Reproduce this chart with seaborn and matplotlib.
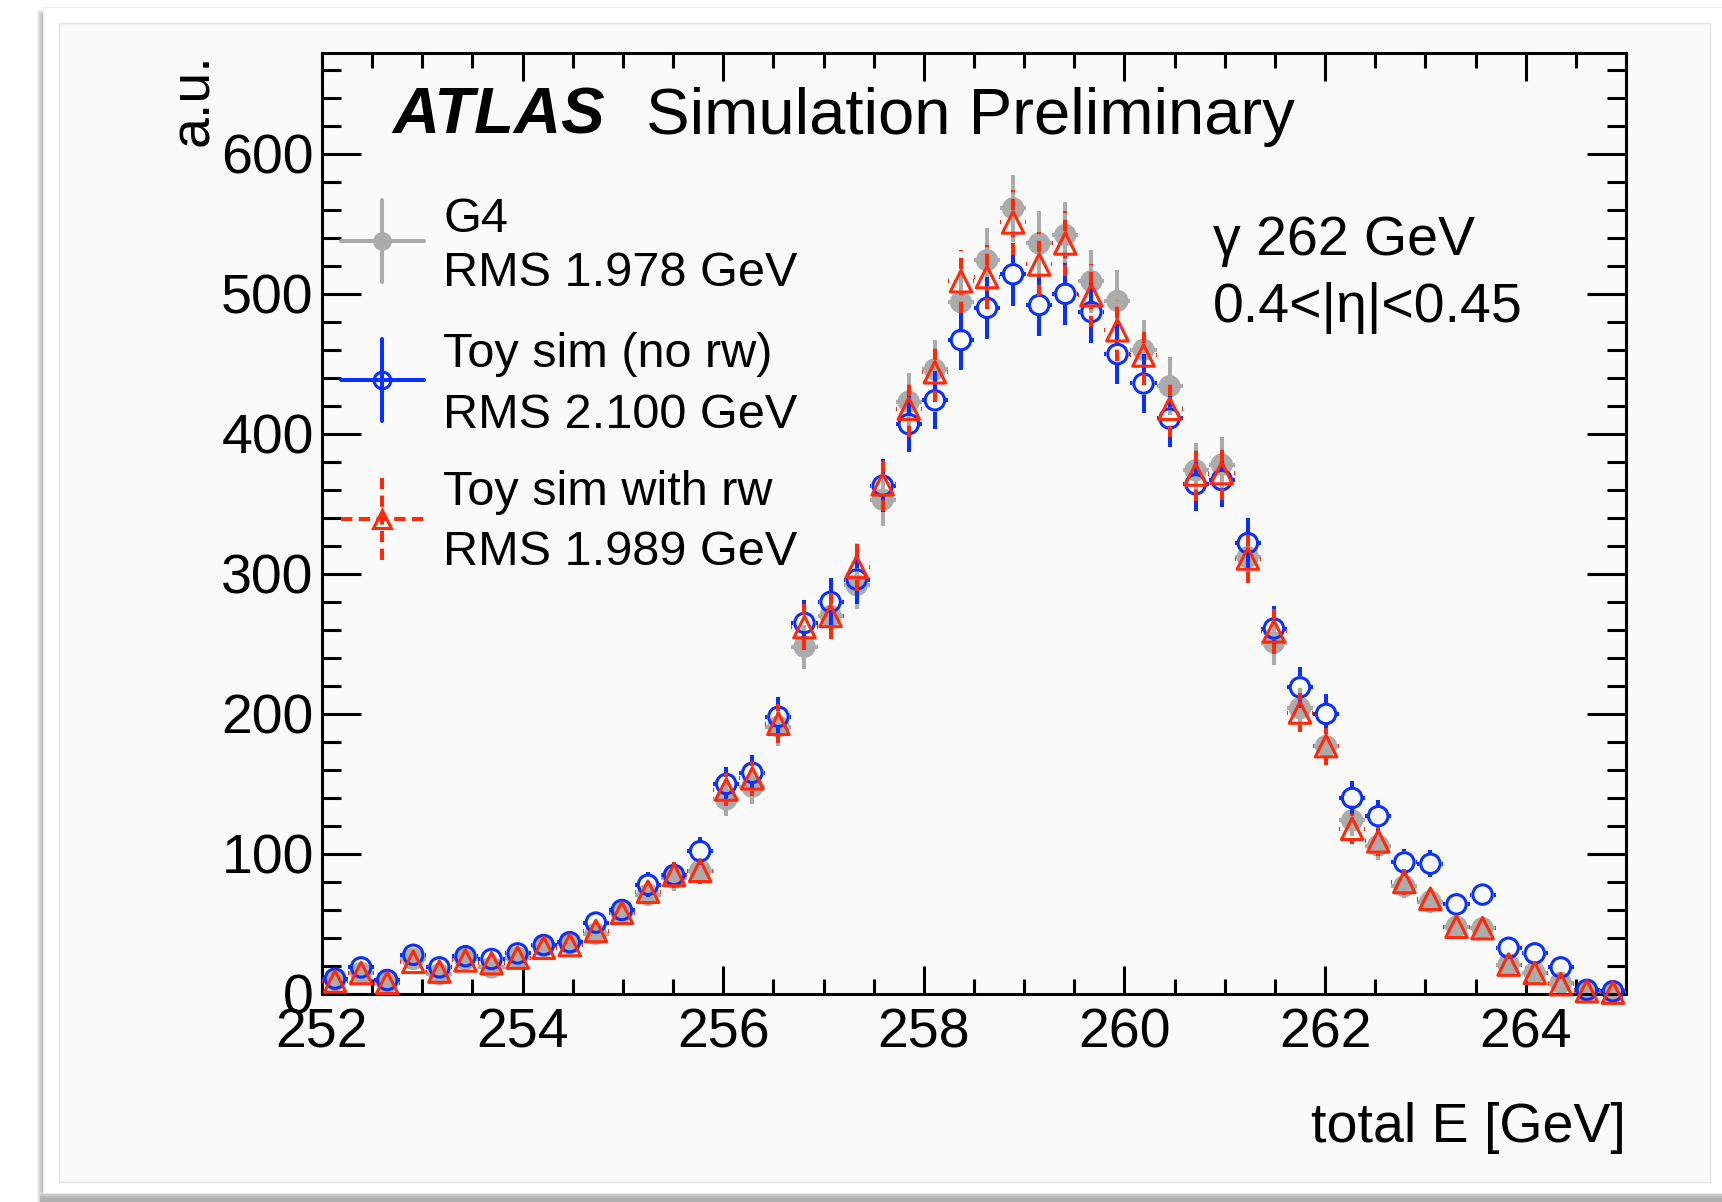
import numpy as np
import pandas as pd
import matplotlib
matplotlib.use("Agg")
import matplotlib.pyplot as plt
from matplotlib.patches import Rectangle
from matplotlib.ticker import MultipleLocator
import seaborn as sns

# Histogram binning of the total reconstructed energy
E_MIN, E_MAX, N_BINS = 252.0, 265.0, 50

# Bin contents (a.u.)
g4_counts = [10, 15, 8, 25, 14, 25, 19, 26, 34, 36,
             43, 58, 71, 83, 88, 139, 148, 191, 248, 270,
             292, 353, 423, 446, 494, 524, 561, 536, 542, 509,
             495, 460, 434, 374, 378, 312, 251, 204, 177, 124,
             106, 77, 66, 48, 47, 21, 15, 8, 2, 1]
toy_norw_counts = [11, 19, 10, 28, 19, 27, 25, 29, 35, 37,
                   51, 60, 78, 85, 102, 150, 158, 198, 265, 280,
                   296, 363, 407, 424, 467, 490, 514, 492, 500, 487,
                   457, 436, 411, 364, 367, 322, 261, 219, 200, 140,
                   127, 94, 93, 64, 71, 33, 29, 19, 3, 2]
toy_rw_counts = [9, 15, 8, 23, 16, 24, 22, 26, 33, 35,
                 45, 58, 73, 85, 88, 146, 154, 193, 262, 270,
                 305, 364, 418, 444, 509, 512, 551, 521, 536, 499,
                 474, 456, 418, 371, 372, 311, 259, 201, 177, 118,
                 109, 80, 68, 48, 47, 21, 15, 7, 2, 1]

sample_names = ["G4", "Toy sim (no rw)", "Toy sim with rw"]
rms_labels = ["RMS 1.978 GeV", "RMS 2.100 GeV", "RMS 1.989 GeV"]
x_ticks = [252, 254, 256, 258, 260, 262, 264]
y_ticks = [0, 100, 200, 300, 400, 500, 600]
Y_MAX = 672

GRAY = "#ababab"
BLUE = "#0a30ff"
RED = "#ff2a0a"

edges = np.linspace(E_MIN, E_MAX, N_BINS + 1)
centers = 0.5 * (edges[:-1] + edges[1:])
half_width = 0.5 * (edges[1] - edges[0])

frames = []
for name, counts in zip(sample_names, [g4_counts, toy_norw_counts, toy_rw_counts]):
    c = np.asarray(counts, dtype=float)
    frames.append(pd.DataFrame({"energy": centers, "count": c,
                                "err": np.sqrt(c), "sample": name}))
hist = pd.concat(frames, ignore_index=True)

sns.set_theme(style="ticks")
plt.rcParams["font.family"] = ["Liberation Sans", "DejaVu Sans"]

W, H = 1722, 1202
fig = plt.figure(figsize=(W / 100, H / 100), dpi=100)
fig.patch.set_facecolor("white")


def fx(px):
    return px / W


def fy(py):
    return 1 - py / H


def fig_rect(x0, y0, x1, y1, **kw):
    fig.add_artist(Rectangle((fx(x0), fy(y1)), fx(x1) - fx(x0), fy(y0) - fy(y1),
                             transform=fig.transFigure, **kw))


# slide card with a soft drop shadow and a light panel
for i, shade in enumerate(["#f2f2f2", "#e6e6e6", "#dadada", "#cfcfcf", "#c6c6c6", "#c0c0c0"]):
    fig_rect(37 + i, 10 + i, 44, 1202, facecolor=shade, edgecolor="none", zorder=-6 + i * 0.01)
for i, shade in enumerate(["#d8d8d8", "#c8c8c8", "#bababa", "#b0b0b0"]):
    fig_rect(40, 1192 + i * 2, 1722, 1202, facecolor=shade, edgecolor="none", zorder=-5 + i * 0.01)
fig_rect(43, 7, 1727, 1193, facecolor="white", edgecolor="#ececec", linewidth=0.8, zorder=-4)
fig_rect(59, 23, 1710, 1182, facecolor="#fafafa", edgecolor="#e2e2e2", linewidth=1.0, zorder=-3)

ax = fig.add_axes([fx(322), fy(994), fx(1626 - 322), fy(53) - fy(994)])
ax.set_facecolor("none")
ax.set_xlim(E_MIN, E_MAX)
ax.set_ylim(0, Y_MAX)

bb = ax.get_window_extent()
x_per_px = (E_MAX - E_MIN) / bb.width
y_per_px = Y_MAX / bb.height

styles = {
    "G4": dict(color=GRAY, marker="o", filled=True, ls="-", ms=16.0, z=2),
    "Toy sim (no rw)": dict(color=BLUE, marker="o", filled=False, ls="-", ms=14.0, z=3),
    "Toy sim with rw": dict(color=RED, marker="^", filled=False, ls=(0, (2.8, 1.6)), ms=15.5, z=4),
}
BAR_LW = 2.9
EDGE_LW = 2.2

for name in sample_names:
    st = styles[name]
    d = hist[hist["sample"] == name]
    x = d["energy"].to_numpy()
    y = d["count"].to_numpy()
    e = d["err"].to_numpy()
    # error bars stop at the marker outline
    gap_pt = 0.0 if st["filled"] else (st["ms"] + EDGE_LW) / 2
    gy = gap_pt * 100 / 72 * y_per_px
    gx = min(gap_pt * 100 / 72 * x_per_px, half_width)
    m = e > gy
    kw = dict(colors=st["color"], linewidth=BAR_LW, linestyles=st["ls"], zorder=st["z"])
    ax.vlines(x[m], (y - e)[m], (y - gy)[m], **kw)
    ax.vlines(x[m], (y + gy)[m], (y + e)[m], **kw)
    ax.hlines(y, x - half_width, x - gx, **kw)
    ax.hlines(y, x + gx, x + half_width, **kw)
    if st["filled"]:
        sns.scatterplot(data=d, x="energy", y="count", ax=ax, marker=st["marker"],
                        s=st["ms"] ** 2, color=st["color"], edgecolor="none",
                        linewidth=0, zorder=st["z"] + 0.5, clip_on=False, legend=False)
    else:
        sns.scatterplot(data=d, x="energy", y="count", ax=ax, marker=st["marker"],
                        s=st["ms"] ** 2, color=st["color"], facecolor="none",
                        edgecolor=st["color"], linewidth=EDGE_LW,
                        zorder=st["z"] + 0.5, clip_on=False, legend=False)

# axes frame and ticks
for sp in ax.spines.values():
    sp.set_visible(True)
    sp.set_color("black")
    sp.set_linewidth(2.2)
ax.set_xticks(x_ticks)
ax.set_yticks(y_ticks)
ax.xaxis.set_minor_locator(MultipleLocator(0.5))
ax.yaxis.set_minor_locator(MultipleLocator(20))
ax.tick_params(which="both", direction="in", top=True, right=True,
               color="black", width=2.2, labelcolor="black")
ax.tick_params(axis="x", which="major", length=20, labelsize=40, pad=10)
ax.tick_params(axis="x", which="minor", length=10.5)
ax.tick_params(axis="y", which="major", length=28, labelsize=40, pad=6)
ax.tick_params(axis="y", which="minor", length=14)
ax.grid(False)

ax.set_xlabel("total E [GeV]", fontsize=40, color="black")
ax.xaxis.set_label_coords(1.0, (994 - 1142) / 941)
ax.xaxis.label.set_horizontalalignment("right")
ax.xaxis.label.set_verticalalignment("baseline")

ax.set_ylabel("a.u.", fontsize=40, color="black")
ax.yaxis.set_label_coords(-0.078, 1.0)
ax.yaxis.label.set_rotation_mode("default")
ax.yaxis.label.set_horizontalalignment("right")
ax.yaxis.label.set_verticalalignment("top")


def axy(py):
    return (994 - py) / 941


def axx(px):
    return (px - 322) / 1304


# experiment label
ax.text(axx(392), axy(134), "ATLAS", transform=ax.transAxes, fontsize=47,
        fontweight="bold", fontstyle="italic", color="black", va="baseline")
ax.text(axx(646), axy(134), "Simulation Preliminary", transform=ax.transAxes,
        fontsize=47, color="black", va="baseline")

# beam / region info
ax.text(axx(1213), axy(255), "γ 262 GeV", transform=ax.transAxes, fontsize=40,
        color="black", va="baseline")
ax.text(axx(1213), axy(322), "0.4<|η|<0.45", transform=ax.transAxes, fontsize=40,
        color="black", va="baseline")

# legend
key_cx = axx(382)
key_hx = 41.5 / 1304
key_hy = 41 / 941
key_rows = [241, 380, 519]
name_rows = [232, 367, 505]
rms_rows = [286, 428, 565]
legend_marker = {"G4": ("o", 13.5, True), "Toy sim (no rw)": ("o", 12.0, False),
                 "Toy sim with rw": ("^", 13.0, False)}
for name, ky, ny, ry, rms in zip(sample_names, key_rows, name_rows, rms_rows, rms_labels):
    st = styles[name]
    cy = axy(ky)
    ax.plot([key_cx - key_hx, key_cx + key_hx], [cy, cy], transform=ax.transAxes,
            color=st["color"], lw=BAR_LW, ls=st["ls"], clip_on=False, zorder=6)
    ax.plot([key_cx, key_cx], [cy - key_hy, cy + key_hy], transform=ax.transAxes,
            color=st["color"], lw=BAR_LW, ls=st["ls"], clip_on=False, zorder=6)
    mk, ms, filled = legend_marker[name]
    ax.plot([key_cx], [cy], transform=ax.transAxes, marker=mk, ms=ms,
            mfc=st["color"] if filled else "none", mec=st["color"],
            mew=0 if filled else EDGE_LW, ls="none", clip_on=False, zorder=7)
    ax.text(axx(443), axy(ny), name, transform=ax.transAxes, fontsize=35,
            color="black", va="baseline")
    ax.text(axx(443), axy(ry), rms, transform=ax.transAxes, fontsize=35,
            color="black", va="baseline")

fig.savefig("out.png", dpi=100, facecolor="white")
